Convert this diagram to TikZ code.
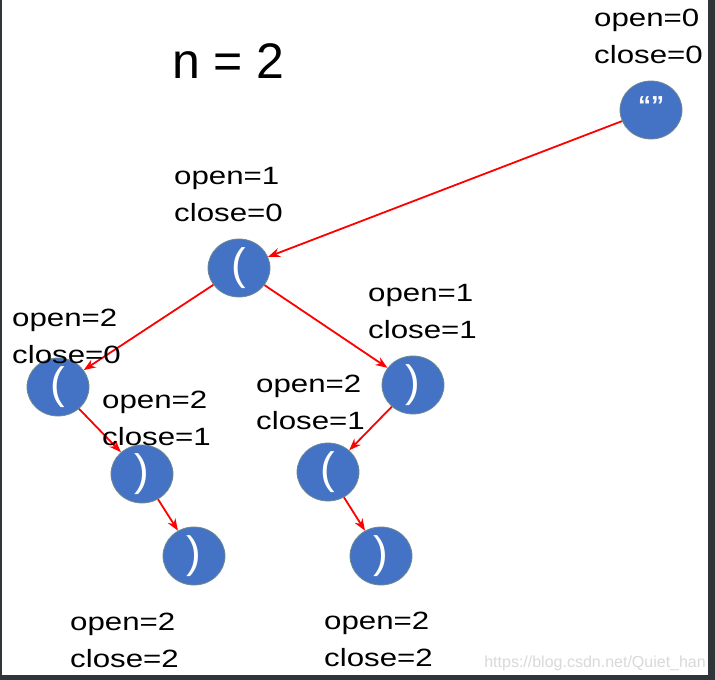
\documentclass[tikz,border=0pt]{standalone}
\usepackage{fontspec}
\setmainfont{Liberation Sans}
\newfontfamily\lblfont[FakeStretch=1.25]{Liberation Sans}
\usetikzlibrary{shapes.geometric,arrows.meta}

\definecolor{nodeblue}{HTML}{4472C4}
\definecolor{nodeedge}{HTML}{6F8A8E}
\definecolor{framegray}{HTML}{2F3539}
\definecolor{markgray}{HTML}{D9D9D9}

\tikzset{
  st/.style={ellipse,fill=nodeblue,draw=nodeedge,line width=0.8pt,minimum width=62pt,minimum height=58pt,inner sep=0pt,text=white,font=\fontsize{44}{44}\selectfont},
  lbl/.style={anchor=north west,inner sep=0pt,align=left,font=\lblfont\fontsize{25}{37}\selectfont},
  link/.style={red,line width=1.8pt,-{Stealth[length=12pt,width=9pt]}}
}

\begin{document}
\begin{tikzpicture}[x=1pt,y=-1pt]

\fill[framegray] (0,0) rectangle (715,680);
\fill[white] (2,0) rectangle (708,675);
\useasboundingbox (0,0) rectangle (715,680);

\node[anchor=base west,inner sep=0pt,font=\fontsize{50}{50}\selectfont] (title) at (172,78) {n = 2};

% states
\node[st,font=\bfseries\fontsize{26}{26}\selectfont,text height=19pt,text depth=11pt] (root) at (651,110) {“”};
\node[st] (a) at (239,268) {(};
\node[st] (b) at (58,387) {(};
\node[st] (c) at (413,385) {)};
\node[st] (d) at (142,474) {)};
\node[st] (e) at (328,472) {(};
\node[st] (f) at (194,556) {)};
\node[st] (g) at (381,556) {)};

\draw[link] (root) -- (a);
\draw[link] (a) -- (b);
\draw[link] (a) -- (c);
\draw[link] (b) -- (d);
\draw[link] (c) -- (e);
\draw[link] (d) -- (f);
\draw[link] (e) -- (g);

% counters
\node[lbl] (lroot) at (594,9) {open=0\\close=0};
\node[lbl] (la) at (174,167) {open=1\\close=0};
\node[lbl] (lb) at (12,309) {open=2\\close=0};
\node[lbl] (lc) at (368,284) {open=1\\close=1};
\node[lbl] (ld) at (102,391) {open=2\\close=1};
\node[lbl] (le) at (256,375) {open=2\\close=1};
\node[lbl] (lf) at (70,613) {open=2\\close=2};
\node[lbl] (lg) at (324,612) {open=2\\close=2};

\node[anchor=base east,inner sep=0pt,text=markgray,font=\fontsize{16}{16}\selectfont] (mark) at (706,667) {https://blog.csdn.net/Quiet\_han};

\end{tikzpicture}
\end{document}
